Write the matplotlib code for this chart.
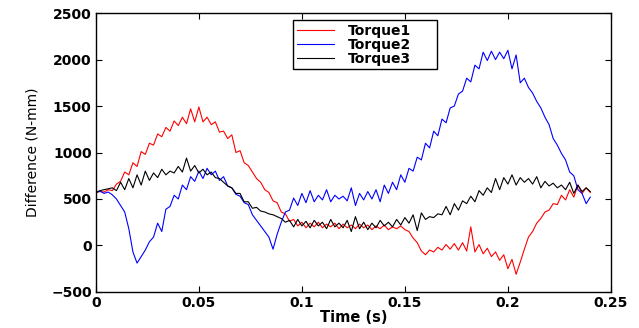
import numpy as np
import matplotlib.pyplot as plt

# Time axis (s), one sample every 2 ms
time = np.arange(121) * 0.002

torque1 = [570, 580, 575, 600, 590, 660, 690, 790, 760, 890,
           850, 1010, 980, 1100, 1080, 1200, 1170, 1270, 1230, 1340,
           1290, 1380, 1310, 1470, 1330, 1490, 1330, 1380, 1300, 1330,
           1220, 1230, 1150, 1190, 1000, 1020, 890, 860, 790, 720,
           680, 600, 570, 480, 460, 360, 340, 260, 280, 210,
           250, 190, 240, 200, 250, 190, 230, 200, 240, 180,
           230, 190, 220, 180, 230, 190, 220, 170, 210, 180,
           220, 170, 200, 180, 210, 170, 150, 80, 30, -60,
           -100, -50, -70, -20, -50, 10, -40, 20, -50, 30,
           -60, 200, -70, 10, -90, -30, -120, -70, -160, -100,
           -250, -150, -310, -180, -40, 90, 150, 240, 290, 360,
           380, 450, 440, 540, 490, 600, 520, 650, 560, 620,
           570]

torque2 = [570, 585, 560, 575, 545, 500, 430, 360, 180, -70,
           -190, -120, -50, 40, 90, 240, 150, 390, 420, 540,
           500, 650, 600, 740, 690, 800, 720, 830, 760, 800,
           700, 740, 640, 620, 550, 530, 460, 440, 330, 270,
           210, 150, 90, -40, 120, 250, 360, 380, 510, 430,
           560, 460, 590, 470, 540, 490, 600, 470, 540, 500,
           530, 480, 620, 430, 560, 490, 580, 500, 600, 470,
           650, 560, 680, 600, 760, 680, 830, 800, 950, 920,
           1100, 1050, 1230, 1180, 1360, 1320, 1480, 1500, 1630, 1660,
           1800, 1760, 1940, 1900, 2080, 1990, 2090, 2000, 2080, 2010,
           2100, 1900, 2050, 1750, 1800, 1700, 1640, 1550, 1480, 1380,
           1300, 1150, 1080, 990, 920, 790, 750, 600, 560, 450,
           520]

torque3 = [570, 590, 600, 610, 620, 590, 680, 600, 720, 620,
           760, 650, 800, 700, 780, 730, 820, 760, 800, 780,
           850, 790, 940, 800, 860, 780, 820, 760, 790, 730,
           720, 680, 640, 620, 560, 560, 470, 470, 400, 410,
           370, 360, 340, 330, 310, 290, 250, 270, 200, 280,
           210, 260, 190, 270, 210, 250, 180, 280, 200, 240,
           190, 270, 150, 310, 180, 250, 170, 240, 190, 270,
           210, 250, 200, 280, 220, 300, 240, 330, 160, 350,
           280, 310, 300, 340, 330, 420, 330, 450, 380, 480,
           450, 530, 470, 590, 540, 620, 570, 720, 600, 730,
           660, 760, 650, 730, 680, 720, 660, 740, 620, 690,
           640, 670, 620, 650, 600, 680, 560, 650, 580, 620,
           580]

fig = plt.figure(figsize=(6.39, 3.28), dpi=100)
ax = fig.add_axes([0.150, 0.110, 0.806, 0.850])

ax.plot(time, torque1, color='#ff0000', lw=0.8, label='Torque1')
ax.plot(time, torque2, color='#0000ff', lw=0.8, label='Torque2')
ax.plot(time, torque3, color='#000000', lw=0.8, label='Torque3')

ax.set_xlim(0, 0.25)
ax.set_ylim(-500, 2500)
ax.set_xticks([0, 0.05, 0.1, 0.15, 0.2, 0.25])
ax.set_xticklabels(['0', '0.05', '0.1', '0.15', '0.2', '0.25'])
ax.set_yticks([-500, 0, 500, 1000, 1500, 2000, 2500])
ax.tick_params(direction='in', top=True, right=True, length=4,
               labelsize=10, pad=3)
for lab in ax.get_xticklabels() + ax.get_yticklabels():
    lab.set_fontweight('bold')
for sp in ax.spines.values():
    sp.set_linewidth(1.0)

ax.set_xlabel('Time (s)', fontsize=10.5, fontweight='bold', labelpad=0)
ax.set_ylabel('Difference (N-mm)', fontsize=10, labelpad=8)

leg = ax.legend(loc='upper left', bbox_to_anchor=(0.383, 0.815, 0.28, 0.16),
                mode='expand', borderaxespad=0, fancybox=False,
                edgecolor='black', framealpha=1, handlelength=2.7,
                labelspacing=0.0, borderpad=0.25, handletextpad=1.0,
                prop={'weight': 'bold', 'size': 10})
leg.get_frame().set_linewidth(1.0)

fig.savefig('out.png', dpi=100)
